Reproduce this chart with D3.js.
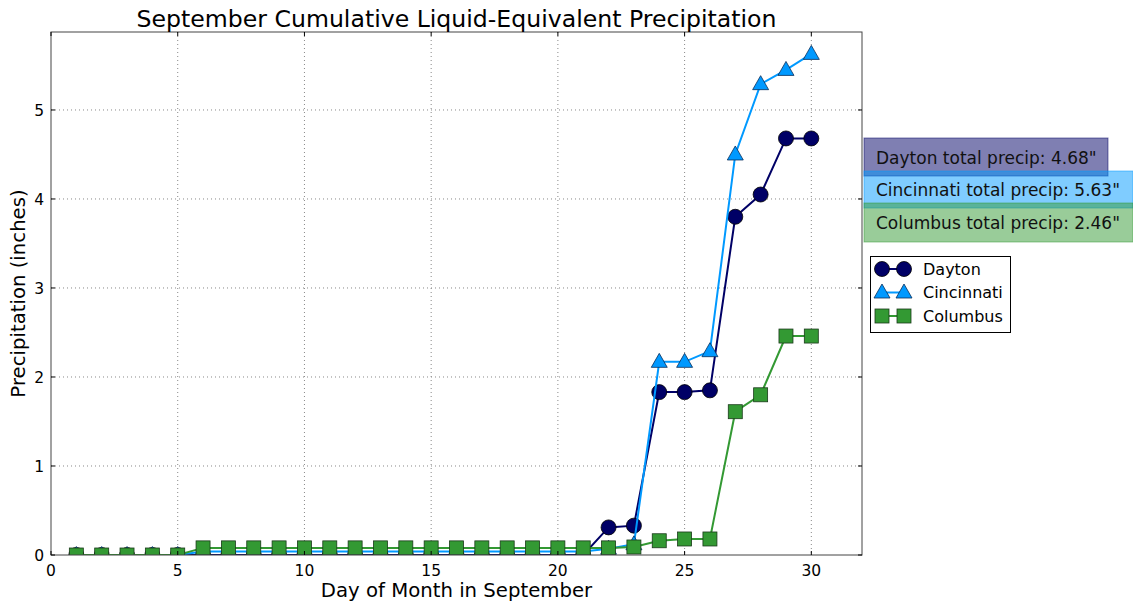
<!DOCTYPE html>
<html><head><meta charset="utf-8">
<script src="https://cdn.jsdelivr.net/npm/d3@7"></script>
<style>body{margin:0;background:#fff;} text{font-family:"DejaVu Sans",sans-serif;}</style>
</head><body>
<svg id="c" width="1133" height="603"></svg>
<script>
const days = d3.range(1, 31);
const dayton = [0,0,0,0,0,0,0,0,0,0,0,0,0,0,0,0,0,0,0,0,0,0.31,0.33,1.83,1.83,1.85,3.80,4.05,4.68,4.68];
const cincinnati = [0,0,0,0,0,0.04,0.04,0.04,0.04,0.04,0.04,0.04,0.04,0.04,0.04,0.04,0.04,0.04,0.04,0.04,0.04,0.07,0.12,2.17,2.17,2.29,4.50,5.29,5.45,5.63];
const columbus = [0,0,0,0,0,0.08,0.08,0.08,0.08,0.08,0.08,0.08,0.08,0.08,0.08,0.08,0.08,0.08,0.08,0.08,0.08,0.08,0.09,0.16,0.18,0.18,1.61,1.80,2.46,2.46];
const seriesNames = ["Dayton","Cincinnati","Columbus"];
const seriesColors = ["#000066","#0099ff","#339933"];
const boxColors = ["#000066","#0099ff","#339933"];
const totals = ["4.68","5.63","2.46"];
const xTicks = [0,5,10,15,20,25,30];
const yTicks = [0,1,2,3,4,5];

const svg = d3.select("#c");
const L=51, R=862, T=32, B=555;
const x = d3.scaleLinear().domain([0,32]).range([L,R]);
const y = d3.scaleLinear().domain([0,5.876]).range([B,T]);

// grid
const g = svg.append("g");
g.selectAll(".gx").data(xTicks.slice(1)).enter().append("line")
 .attr("x1",d=>x(d)).attr("x2",d=>x(d)).attr("y1",T).attr("y2",B)
 .attr("stroke","#888").attr("stroke-dasharray","1,3").attr("stroke-width",1);
g.selectAll(".gy").data(yTicks.slice(1)).enter().append("line")
 .attr("y1",d=>y(d)).attr("y2",d=>y(d)).attr("x1",L).attr("x2",R)
 .attr("stroke","#888").attr("stroke-dasharray","1,3").attr("stroke-width",1);

svg.append("clipPath").attr("id","clip").append("rect")
 .attr("x",L).attr("y",T).attr("width",R-L).attr("height",B-T);
const plot = svg.append("g").attr("clip-path","url(#clip)");

const allData = [dayton, cincinnati, columbus];
const line = d3.line().x((d,i)=>x(days[i])).y(d=>y(d));
function marker(sel, k, cx, cy){
  const c = seriesColors[k];
  if(k===0) sel.append("circle").attr("cx",cx).attr("cy",cy).attr("r",7.5).attr("fill",c).attr("stroke","#000").attr("stroke-width",0.8);
  else if(k===1) sel.append("path").attr("d",`M${cx},${cy-8.5}L${cx+8},${cy+5.5}L${cx-8},${cy+5.5}Z`).attr("fill",c).attr("stroke","#0a2f5a").attr("stroke-width",0.8);
  else sel.append("rect").attr("x",cx-7).attr("y",cy-7).attr("width",14).attr("height",14).attr("fill",c).attr("stroke","#1a3a1a").attr("stroke-width",0.8);
}
allData.forEach((arr,k)=>{
  plot.append("path").attr("d",line(arr)).attr("fill","none").attr("stroke",seriesColors[k]).attr("stroke-width",2);
  arr.forEach((v,i)=>marker(plot,k,x(days[i]),y(v)));
});

// spines
svg.append("rect").attr("x",L).attr("y",T).attr("width",R-L).attr("height",B-T)
 .attr("fill","none").attr("stroke","#444").attr("stroke-width",1);

// ticks
xTicks.forEach(t=>{
  svg.append("line").attr("x1",x(t)).attr("x2",x(t)).attr("y1",B).attr("y2",B-4).attr("stroke","#000");
  svg.append("line").attr("x1",x(t)).attr("x2",x(t)).attr("y1",T).attr("y2",T+4).attr("stroke","#000");
  svg.append("text").attr("x",x(t)).attr("y",B+21).attr("text-anchor","middle").attr("font-size",15.5).text(t);
});
yTicks.forEach(t=>{
  svg.append("line").attr("x1",L).attr("x2",L+4).attr("y1",y(t)).attr("y2",y(t)).attr("stroke","#000");
  svg.append("line").attr("x1",R).attr("x2",R-4).attr("y1",y(t)).attr("y2",y(t)).attr("stroke","#000");
  svg.append("text").attr("x",L-7).attr("y",y(t)+6).attr("text-anchor","end").attr("font-size",15.5).text(t);
});

svg.append("text").attr("x",(L+R)/2).attr("y",27).attr("text-anchor","middle").attr("font-size",23.6)
 .text("September Cumulative Liquid-Equivalent Precipitation");
svg.append("text").attr("x",(L+R)/2).attr("y",597).attr("text-anchor","middle").attr("font-size",19.7)
 .text("Day of Month in September");
svg.append("text").attr("transform",`translate(25,${(T+B)/2}) rotate(-90)`).attr("text-anchor","middle").attr("font-size",19.7)
 .text("Precipitation (inches)");

// total boxes
const boxes = [{y:138,h:38,w:244},{y:171,h:37,w:269},{y:203,h:39,w:269}];
const texts = [164,196,229];
boxes.forEach((b,k)=>{
  svg.append("rect").attr("x",864).attr("y",b.y).attr("width",b.w).attr("height",b.h)
   .attr("fill",boxColors[k]).attr("fill-opacity",0.5).attr("stroke",boxColors[k]).attr("stroke-opacity",0.5);
});
seriesNames.forEach((n,k)=>{
  svg.append("text").attr("x",876).attr("y",texts[k]).attr("font-size",17).attr("fill","#111")
   .text(`${n} total precip: ${totals[k]}"`);
});

// legend
svg.append("rect").attr("x",870.5).attr("y",256.5).attr("width",140).attr("height",76).attr("fill","#fff").attr("stroke","#000");
const lg = svg.append("g");
seriesNames.forEach((n,k)=>{
  const yy = 269 + k*23.5;
  lg.append("line").attr("x1",882).attr("x2",904).attr("y1",yy).attr("y2",yy).attr("stroke",seriesColors[k]).attr("stroke-width",2);
  marker(lg,k,882,yy); marker(lg,k,904,yy);
  lg.append("text").attr("x",923).attr("y",yy+5.5).attr("font-size",16).text(n);
});
</script>
</body></html>
